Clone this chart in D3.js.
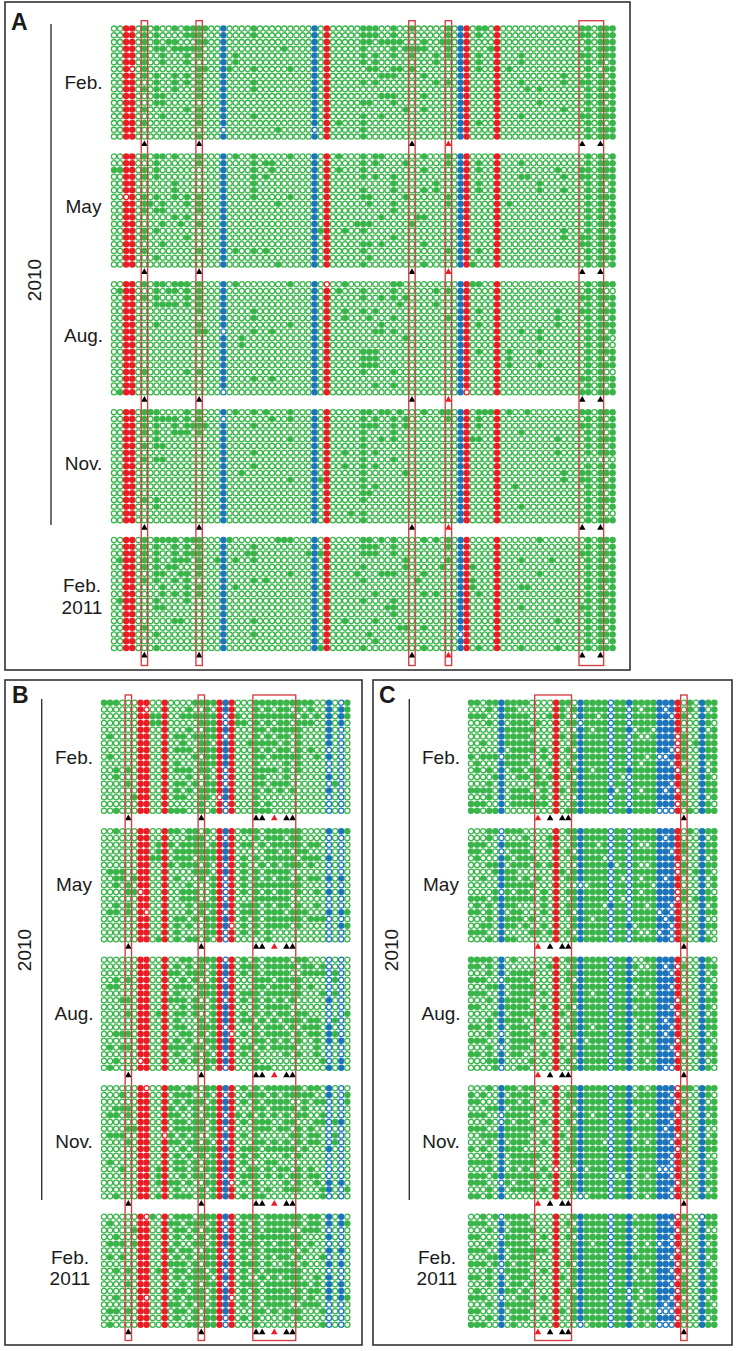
<!DOCTYPE html>
<html>
<head>
<meta charset="utf-8">
<title>Dot matrix</title>
<script src="https://cdn.jsdelivr.net/npm/d3@7"></script>
<style>
  body { margin: 0; background: #fff; }
  text { font-family: "Liberation Sans", Arial, sans-serif; fill: #1a1a1a; }
</style>
</head>
<body>
<div id="chart"></div>
<script>
'use strict';

// panel A: filled green columns per row, one list per sampling date
const A_feb10 = [
  [5,7,10,12,13,14,15,23,41,42,43,46,49,55,60,61,77,78,80,81,82],
  [5,7,12,13,14,23,41,42,43,46,55,60,77,78,80,81,82],
  [5,7,9,10,14,15,41,42,44,45,46,47,51,54,55,78,80,81,82],
  [5,7,8,10,11,12,13,14,28,41,46,48,49,50,51,55,62,78,80,81,82],
  [5,8,12,14,20,41,43,46,49,53,55,60,67,77,78,80,81,82],
  [5,8,12,20,41,43,53,60,67,78,80,82],
  [5,14,15,19,23,29,42,43,46,47,49,60,65,78,81,82],
  [5,7,10,12,14,44,45,46,51,74,78,80,82],
  [7,10,12,14,23,41,43,53,55,67,74,77,78,80,81,82],
  [5,7,10,14,23,68,70,78,80,82],
  [7,8,14,44,45,46,51,78,80,81,82],
  [7,8,41,42,46,70,78,80,82],
  [5,12,14,48,51,74,78,80,81,82],
  [8,14,23,41,44,67,77,78,80,81,82],
  [5,14,37,41,60,78,80,82],
  [27,41,78,80,81,82],
  [14,41,78,80,81,82]
];
const A_may10 = [
  [5,7,8,10,14,20,23,29,37,41,43,44,51,55,78,80,82],
  [7,14,23,25,26,41,43,48,55,60,67,78,80,81,82],
  [0,1,5,7,23,26,37,41,51,60,73,77,78,80,81,82],
  [5,7,23,25,41,43,46,67,68,74,77,78,80,81,82],
  [10,23,46,53,60,70,78,80,82],
  [10,23,41,46,51,53,60,70,74,78,80,82],
  [5,7,10,12,14,23,29,41,42,48,55,78,80,81,82],
  [5,6,8,12,14,27,42,46,55,65,78,80,82],
  [5,7,8,14,46,78,80,82],
  [10,12,44,50,51,78,80,82],
  [8,11,14,40,41,42,49,78,80,81,82],
  [5,7,34,38,41,74,78,80,82],
  [5,12,46,74,77,78,80,81,82],
  [8,41,42,44,51,77,78,80,82],
  [5,14,20,23,25,41,55,60,78,80,82],
  [7,42,78,80,81,82],
  [27,41,51,59,78,80,82]
];
const A_aug10 = [
  [5,7,8,10,11,12,14,20,29,38,46,47,59,60,78,80,81,82],
  [1,7,9,10,12,14,37,41,46,53,55,78,80],
  [5,7,12,14,41,44,46,48,77,78,80,81,82],
  [7,8,9,10,12,14,47,53,78,80,82],
  [14,23,38,41,43,60,73,77,78,80,81,82],
  [23,38,42,46,55,73,78,80,82],
  [7,14,29,44,60,73,78,80,81,82],
  [14,15,23,26,43,44,46,67,70,78,80,82],
  [21,48,70,78,80,81],
  [21,78,80],
  [41,42,43,60,65,70,78,80,81,82],
  [41,42,43,65,78,80,82],
  [41,42,43,65,70,78,80,81,82],
  [5,12,14,41,46,78,80],
  [23,26,77,78,80,81,82],
  [43,46,78,80,82],
  [1,77,78,80,81,82]
];
const A_nov10 = [
  [5,6,7,12,14,20,23,25,29,41,42,44,45,47,51,54,55,60,61,62,65,68,77,78,80,81,82],
  [5,7,8,9,10,12,14,26,29,41,43,46,48,55,60,78,80,82],
  [5,7,10,12,13,14,15,23,41,42,43,46,48,60,77,78,80,81,82],
  [5,7,10,11,12,14,41,46,67,78,80,82],
  [7,29,41,44,46,59,60,73,78,80,81,82],
  [5,7,8,41,78,80,82],
  [23,38,41,43,73,78,80,81,82],
  [5,7,8,41,46],
  [23,38,41,43,78,80,82],
  [21,41,48,74,77,78,80,81,82],
  [29,34,41,74,77,78,80,82],
  [41,43,66,78,80,81,82],
  [41,42,78,80,82],
  [5,7,41,78,80,81,82],
  [7,67,78,80,82],
  [39,41,78,80],
  [41,78,80,81,82]
];
const A_feb11 = [
  [5,7,8,9,10,12,13,14,19,27,28,29,41,42,44,46,51,53,55,70,78,80,81,82],
  [5,7,10,12,14,23,41,42,43,46,55,78,80,82],
  [5,7,10,12,13,14,22,23,32,34,41,42,43,46,77,78,80,81,82],
  [1,5,7,10,11,12,14,17,20,23,48,55,67,72,78,80,82],
  [5,7,9,10,14,41,48,54,59,78,80,81,82],
  [7,8,11,12,14,29,40,44,45,46,51,70,78,80,82],
  [5,7,10,12,23,25,41,50,59,78,80,81,82],
  [8,12,14,20,59,67,68,78,80,82],
  [8,10,12,14,43,51,53,60,78,80,81,82],
  [1,7,12,41,46,78,80,82],
  [7,8,45,46,67,77,78,80,81,82],
  [46,78,80,82],
  [10,11,23,38,43,73,78,80,81,82],
  [5,47,48,51,78,80,82],
  [7,23,42,78,80,81,82],
  [43,78,80,82],
  [7,34,41,51,60,67,73,78,80,81,82]
];
const A_red = [2, 3, 35, 58, 63];
const A_blue = [18, 33, 57];
// [date, row, column] of the red/blue dots that stay open
const A_open = [[0,6,3],[0,15,18],[0,15,33],[1,6,2],[2,0,35],[2,7,18],[2,16,18],[2,16,58],[3,1,18],[4,14,57]];
const A_boxes = [[5,5],[14,14],[49,49],[55,55],[77,80]];
const A_marks = [5, 14, 49, 55, 77, 80];
const A_redMarks = [55];

// panels B and C: # filled, . open
const B_feb10 = [
  "###...##.. #....##### ##...##### #####..#.. #",
  "......#... #...#..#.# ##...#.#.# #.#.#..#.# #",
  "......#### #..####### .##..##### ##.#.#.#.# #",
  "......#### #.....#### .###.#.#.# #.###..#.# .",
  "......##.. #...#..### ##...##.## ###....#.. .",
  ".#....##.. #.##.##### .#...#.#.# #.#....#.. .",
  "......##.. #..#..##.# ##..#####. #.#....#.. .",
  "......##.. #.###.#### ##...#.#.# #.#.#..... .",
  ".#....##.. #....#.### ##...##.## ###..#.#.. .",
  "......##.. #.#...#### ##...#.... #.#....... .",
  "..#.#.##.. #.###.##.# .#...####. #.#....... .",
  "..#...##.. #...#..#.# .#...##... #......#.. .",
  "....#.##.. #.##.#.### .#...##.## #.......#. .",
  "......##.. #.#.#.#### ##...#.#.# .#.....#.. .",
  ".....###.. #.##..##.. ##...#.... .......... .",
  "......##.. #.....#..# .#...#.#.. .......... .",
  "..#...##.. ####..#.## .#...###.. .......... ."
];
const B_may10 = [
  "..#...##.. ###.##.#.# ##.###.### ###....#.# #",
  "......##.. #...###..# .#...#.### .##....... .",
  "......##.# ##.####.## ##.##.#.## ###.##.... .",
  "......##.# #.######## ##.....##. #.##...... .",
  "......#### #.###.#### ##.#.#.### ##.###.#.. .",
  "......##.. ##.###.#.# .#.#..#.#. ###.#..... .",
  ".###..##.. #....###.# ##.#.#.### #......... .",
  "..##.###.. #.#...#.## .#.#.#.#.# #.#.##.#.# .",
  "..#.#.##.. #...#...## .#.#.##### ###....... .",
  "....##.#.. #..###..## .#.#.#.#.# #.#..#.#.# .",
  "......##.. #..###..## .#...##### #......... .",
  "..#.#.##.. #...#.#### ##.###.#.# #.#..#.... .",
  ".##.#.#... #...#.#.## .#.###.### .###...#.# #",
  "......##.. #.##.#.### ##.#.#.### ###.###... .",
  "......##.. #.#.#..### #..#.#.### #.#......# #",
  "......##.. #.#....### .#.#.#.#.. .......... .",
  "......##.# #.#.##.#.# .#.....#.. .......... ."
];
const B_aug10 = [
  "......##.. #..##.#### .#.#.#.### #.##...... .",
  "......##.. #.#.#.#.## ##.###.### ##.##.#... .",
  "......##.. ###.###.## ##.#.#.### #..####.#. .",
  "..#.#.##.. #..#.#..## .#...###.# ###.....#. .",
  ".##...##.. #.###.#### ##...##.## #.#.#..... .",
  "......##.. #.#...#### ##.###.### ###...#.#. .",
  "...##.##.. ####.#..## .#.#.#.#.# .#.....#.. .",
  "......##.. #..#.##.## ##...#.### #......... .",
  "....#.##.# #.##.#..## ##.#.#.#.# #.##...... #",
  "......##.. #.#...#.## ##.##.#.#. ###.##..#. .",
  "......##.. #.##..#### .#...#.### .#.###.#.. .",
  "..###.##.. #..##.#.## #..#.#.### #.#.##.##. .",
  "......##.. #.#.#..### ##...##.#. #.#..#.#.# .",
  ".#.##.##.. ####.##.## ##.##.#.## ##...#.... .",
  "......##.. #.#..#.#.# .#.#.#.... #.#..#.... .",
  "..#....#.. #..#.#.### ##...#.... ......#..# .",
  ".#....##.. #......#.# .#...###.. .......#.# ."
];
const B_nov10 = [
  "......#... ###.##.### ##.#.#.### ###.##.#.. .",
  "...#..##.. #.###..#.# .#..###.#. #####..#.. #",
  "......##.. #.#.###.## ##.#.#.### #..#.##... #",
  "..###.##.. ##.#.#.### ##...##.## ##.#...... .",
  ".##.#.##.. ###..#.### .##.#.#.#. #.##..#... .",
  "......##.. #.##.##.## ##.#.###.. ##...##.## .",
  "....####.. #.#####.## .#...###.# #.#.#..... .",
  ".###..##.. .#.#.#..## ##.#.#.... .##.##..#. .",
  "....#.##.. ###.##.#.# .#...##.#. #.#.##..#. .",
  "......##.. #..#.##### ##.###.### ##.#...#.. .",
  "......##.. #.#.#.#.## .#.#.#.... #.#....... .",
  ".#....##.. #.##.#.### ##.#...##. .......... .",
  "...#..##.# #.##.#.### ##..##.#.# #.#.#..... .",
  "......##.# #..#.##.## .#.###.#.# .##.##.... .",
  "......##.# ###.#..### #..#.#.... #.#..#.#.# .",
  "......##.. #.#...#.## ##...#.#.. ###...##.. #",
  "..#...##.# #.###.#.## ##.#.##... ......#... ."
];
const B_feb11 = [
  "......#.#. #.###.#### ##.###.### ###.##.#.# .",
  ".#....##.. ###.###.## .#.#.#.### ###.##.#.# #",
  ".....###.. #.##.#.### .#.#.#.### #..###.... .",
  "..#...##.. #.#.#.#.## ##.#.##### ###....#.. .",
  ".###.###.. #.#..##.## ##.###.#.# #.#.#..... .",
  "......##.. ##.##..### .#.#.#.### ##.#...#.# .",
  ".#.#..##.. #.#.#.#### .#.#.#.#.# #.#...#... .",
  "......##.. ####.#.### ##.###.#.. ##.#...#.# .",
  "..#.#.##.# #.##.##.## .#.#.#.### ###....... .",
  "......##.. #.#.####.# ##.#..#.#. ###..#.#.. .",
  "....#.##.. #..#.#.### .#.###.### ####.#.#.# .",
  "......##.. #.##.##.## ##.#.#.### #.#.##.#.# .",
  "..#...#... #.#.###.## #..#.#.### ###.#..#.# #",
  "......##.. ###.#.#.## ##.#.#.### #..###.... .",
  ".##.#.##.. #.##.#.### ##...##.#. ###...#... .",
  "......##.. #.#..#.### .#.#.#.... #.#....... .",
  ".#....##.. #...##.### .#...#.... ......#... ."
];
const B_red = [6, 7, 10, 19, 21];
const B_blue = [20, 37, 39];
const B_boxes = [[4,4],[16,16],[25,31]];
const B_marks = [4, 16, 25, 26, 28, 30, 31];
const B_redMarks = [28];

const C_feb10 = [
  "##.####### ....###.## ###.###### #####.#.## #",
  "...#.###.. ....##.### ###.##.#.# ##.##.#.#. #",
  "###..##### ...###..## #.#.##.### ###.##..## #",
  "...#.#.### .#..#.##.# ###.##.### #####...## .",
  ".....##### #...#...## .##.###.## .####...#. #",
  ".....##### ....##.### ###.##.#.. ####.#..## #",
  "..#..##### #...#..### ###.##.### ####.#.### #",
  ".....#.### #.#.#.#.## ###.##.### ###..#..## #",
  "#.###.#### ..#.#..### ###.##.##. #..###..## #",
  ".#...##### ...##.#.## ###.##.#.# ###.#...#. #",
  ".#.#.#.##. ##..#..### .##.###### ####.#..#. #",
  "....##..## .#.##.#.## ###.#..### #####...## .",
  "...#.#.... .##.#..### ###.##.### ###.##..## #",
  "####.#.### ..#.##.### ####.#.#.# ##.#.#..## #",
  "...#.#.### #.#.#...## ###.##.### #####...#. #",
  "###..#.### ###.#..### ###.##.### ####.#..## .",
  "##.###.... ....#.#### ###.###### #...#.#.## #"
];
const C_may10 = [
  "...##.###. ....#.#### ###.##.### #####.#.## #",
  "...#.....# ...##..### ###.##.### ##.##...#. #",
  "###..##### ...##..### #.#.##.#.. ######..## #",
  "##.#...### ....#.#.## ###.##.### ###.##..## #",
  ".#...##.## #...#..### ##..##.### #####...#. #",
  "...###.### .#.##...## ####.#.#.. ####.#..## #",
  "....####.. ....##.### ###.##.### ####.#.### .",
  "..#..###.# .#..#.#### ###.#..#.# ##.##...#. #",
  ".....##### #...#..... ###.##.### .####...#. #",
  "....#.#.## ..#.#.#### ###.##.#.# ####.#..## .",
  "###.###### #.#.#..### ###.#..### ####.#.### #",
  ".#.#.###.. ..#.#.#### ##.###.##. ###.#...#. #",
  "##.#.#.##. ..#.#.#.## ###.##.### #.#.#...## #",
  "...#.####. #...#..### .##.##.### ##.##...#. .",
  "..##.###.# ..#.#..### ###.###.## ###.##..## #",
  "###..#.... ##.##.#.## ###.##.#.. #.#.#...#. .",
  "...#.###.. ....#..### ###.##.### ###.##..## ."
];
const C_aug10 = [
  "####.#.#.. ....#.#### ###.###..# #####...## .",
  "##.#.#.... ...##..### ###.####.. ##.#.#..## #",
  "...#.#.### #...#.#### ###.###.## ###.#...#. #",
  "###...#### ....#.#.## ###.###### #####...## .",
  "...###.### #...#..### ###.###.## ###.#...#. #",
  "###..#.### #.#.#..### .##.###.#. #####...#. #",
  "...#.##### ....#..### ###.###### ####.#..## #",
  "##...##### ..#.#.#.## ###.###.## ###.#...## .",
  "....##.### #...##.### ###.###### ####.#..#. #",
  "...#.####. .#..#..### ###.###.## ##.##...## #",
  "##.#.#.### ....#.#### .##.###.#. ###.#...## #",
  "...#...### ..#.#..### ###.###.## ##.##...#. #",
  "###..#.### #...#...#. ###.###.#. ####.#..## .",
  "...#...### ....##.### ###.###.## ###.#...#. #",
  "##.#.#.##. ..#.#..### ###.###.## ####.#..## #",
  "...###.... #...#.#.## ###.###.#. #####...#. #",
  "....#...## ....#..### ###.###.## ##..#...## ."
];
const C_nov10 = [
  "...#.###.# #...#..### ###.###.#. ####.##.## #",
  "#.#..#.### ....#.#### ###.###.## ###.#...## .",
  "##...###.# ..#.#..### ###.###### ####.#..#. #",
  "...###.### #...#.#.## ###.###.## ###.#...## #",
  "###...#### ....#..### .##.###.#. ####.#..#. #",
  "...#..#.## ..#.#.#.## ###.###.## ###.#...## #",
  "###..##### #...#..### ###.###### ##.##...#. .",
  "..######## ....##.### ###.###.## ####.#..#. #",
  "...#.#.### ..#.#..### ##..###.#. ###.#...## #",
  "#.#..####. ....#.#### ###.###### ####.#..## #",
  "...#.#.### ##..#..### ###.###.## ###.#...#. .",
  "####.#.### #...#..### ###.###.## ###.##..## #",
  "...#.#.#.# ..#.....#. ###.###.## #...#...#. #",
  "###.###### ##.##..### ###...#.#. ###.#...#. #",
  "###...#.## ....#.#### ###.###.## ####.#..## #",
  "...#.#.### #.#.#..### ###.###.## ###.#...#. #",
  "##.#.#.... ....#..... ###.###.#. ###.#...## #"
];
const C_feb11 = [
  "..#.#.#### ....#..### ###.###.## ####.#...# #",
  "###..#.### ....#.#.## ###.###### ###.#...## #",
  "...#.#.### #...#..### ###.###.## ####.#..#. .",
  "##....#### ..#.#.#.## ###.###.## ###.#...## #",
  "...#.##### ....#..### .##.###.#. #.#.#...#. #",
  "###..#.### ###.#..### ###.###.## ####.#..## #",
  "...###.### #...#..### ###.###### ###.#...#. #",
  "###.#.#.## ....#.#.## ###.###.## ####.#..## .",
  "...#..#### ..#.#..### ###.###.#. ###.#...#. #",
  "##.#.#.### ....##.### ###.###.## ####.#..## #",
  "...#.#.##. #...#..### ###.###### ###.##..#. #",
  ".#...###.# ....#.#.## ###.##.#.# ####.#..## #",
  "###.....## ..#.#..### ###.##.#.# ###.#...#. #",
  "...#.##### #...#..### ###.###.## ##.#.#..## .",
  "##...#.### ....##.### ###.###.#. #...#...## #",
  "...#.#.### ..#.#..### ###.###.## ####.#..#. #",
  "###..#.#.. ....#..... ###.###.#. #...#...## #"
];
const C_red = [14, 34];
const C_blue = [5, 18, 23, 26, 31, 32, 33, 38];
const C_boxes = [[11,16],[35,35]];
const C_marks = [11, 13, 15, 16, 35];
const C_redMarks = [11];

const dateLabels = ["Feb.", "May", "Aug.", "Nov."];
const yearLabel = "2010";
const lastLabel = ["Feb.", "2011"];

const GREEN = "#39b54a", RED = "#ed1c24", BLUE = "#1c75bc", BOX = "#d43c42";
const ROWS = 17;

// every date becomes a list of {row, col, filled}
function fromColumns(rows, date) {
  let cells = [];
  rows.forEach((cols, r) => {
    d3.range(83).forEach((c) => {
      let special = A_red.includes(c) || A_blue.includes(c);
      let open = A_open.some((o) => o[0] === date && o[1] === r && o[2] === c);
      cells.push({row: r, col: c, filled: special ? !open : cols.includes(c)});
    });
  });
  return cells;
}

function fromStrings(rows) {
  let cells = [];
  rows.forEach((s, r) => {
    s.replace(/ /g, "").split("").forEach((ch, c) => {
      cells.push({row: r, col: c, filled: ch === "#"});
    });
  });
  return cells;
}

const svg = d3.select("#chart").append("svg")
    .attr("width", 736)
    .attr("height", 1351);

function drawPanel(p) {
  let g = svg.append("g");

  g.append("rect")
      .attr("x", p.frame[0]).attr("y", p.frame[1])
      .attr("width", p.frame[2] - p.frame[0]).attr("height", p.frame[3] - p.frame[1])
      .attr("fill", "none").attr("stroke", "#333").attr("stroke-width", 1.6);

  let x = d3.scaleLinear().domain([0, p.cols - 1]).range(p.xRange);
  let block = d3.scaleLinear().domain([0, 4]).range(p.blockRange);
  let rowY = d3.scaleLinear().domain([0, ROWS - 1]).range([0, 108]);

  let color = (c) => p.red.includes(c) ? RED : p.blue.includes(c) ? BLUE : GREEN;

  p.cells.forEach((cells, b) => {
    let row = g.append("g").attr("transform", "translate(0," + block(b) + ")");
    row.selectAll("circle")
      .data(cells)
      .enter().append("circle")
        .attr("cx", (d) => x(d.col))
        .attr("cy", (d) => rowY(d.row))
        .attr("r", (d) => d.filled ? 3.25 : 2.6)
        .attr("fill", (d) => d.filled ? color(d.col) : "#fff")
        .attr("stroke", (d) => d.filled ? "none" : color(d.col))
        .attr("stroke-width", 1.3);

    let symbol = d3.symbol().type(d3.symbolTriangle).size(19);
    row.selectAll("path")
      .data(p.marks)
      .enter().append("path")
        .attr("d", symbol)
        .attr("transform", (d) => "translate(" + x(d) + "," + (rowY(ROWS - 1) + 7.6) + ")")
        .attr("fill", (d) => p.redMarks.includes(d) ? RED : "#000");
  });

  g.selectAll("rect.box")
    .data(p.boxes)
    .enter().append("rect")
      .attr("class", "box")
      .attr("x", (d) => x(d[0]) - 3.2)
      .attr("y", p.boxY[0])
      .attr("width", (d) => x(d[1]) - x(d[0]) + 6.4)
      .attr("height", p.boxY[1] - p.boxY[0])
      .attr("fill", "none")
      .attr("stroke", BOX)
      .attr("stroke-width", 1.35);

  // date labels and year rule
  g.append("line")
      .attr("x1", p.ruleX).attr("x2", p.ruleX)
      .attr("y1", p.ruleY[0]).attr("y2", p.ruleY[1])
      .attr("stroke", "#333").attr("stroke-width", 1.4);

  g.append("text")
      .attr("transform", "translate(" + p.yearX + "," + p.yearY + ") rotate(-90)")
      .attr("text-anchor", "middle")
      .attr("font-size", 19)
      .text(yearLabel);

  g.selectAll("text.date")
    .data(dateLabels)
    .enter().append("text")
      .attr("class", "date")
      .attr("x", p.labelX)
      .attr("y", (d, i) => p.labelY[i])
      .attr("text-anchor", "middle")
      .attr("font-size", 19)
      .text((d) => d);

  lastLabel.forEach((t, i) => {
    g.append("text")
      .attr("x", p.lastX)
      .attr("y", p.lastY[i])
      .attr("text-anchor", "middle")
      .attr("font-size", 19)
      .text(t);
  });

  g.append("text")
      .attr("x", p.letter[0]).attr("y", p.letter[1])
      .attr("font-size", 23).attr("font-weight", "bold")
      .text(p.name);
}

drawPanel({
  name: "A", frame: [5, 2, 630, 670], letter: [11, 30],
  cols: 83, xRange: [114, 612.6], blockRange: [28.6, 540],
  cells: [A_feb10, A_may10, A_aug10, A_nov10, A_feb11].map(fromColumns),
  red: A_red, blue: A_blue, boxes: A_boxes, marks: A_marks, redMarks: A_redMarks,
  boxY: [20.7, 665.5], ruleX: 51, ruleY: [24, 525], yearX: 41, yearY: 280,
  labelX: 83.5, lastX: 82, labelY: [88.6, 213.4, 342.2, 470], lastY: [592, 613.5]
});
drawPanel({
  name: "B", frame: [5, 680, 362, 1345], letter: [12, 703],
  cols: 41, xRange: [104, 347.3], blockRange: [702.7, 1216.7],
  cells: [B_feb10, B_may10, B_aug10, B_nov10, B_feb11].map(fromStrings),
  red: B_red, blue: B_blue, boxes: B_boxes, marks: B_marks, redMarks: B_redMarks,
  boxY: [695, 1340.5], ruleX: 41.7, ruleY: [699, 1200], yearX: 31, yearY: 950,
  labelX: 74, lastX: 70, labelY: [763.7, 891.2, 1019.7, 1148.2], lastY: [1264.2, 1284.7]
});
drawPanel({
  name: "C", frame: [373, 680, 732, 1345], letter: [379, 703],
  cols: 41, xRange: [471, 714.3], blockRange: [702.7, 1216.7],
  cells: [C_feb10, C_may10, C_aug10, C_nov10, C_feb11].map(fromStrings),
  red: C_red, blue: C_blue, boxes: C_boxes, marks: C_marks, redMarks: C_redMarks,
  boxY: [695, 1340.5], ruleX: 409.3, ruleY: [699, 1200], yearX: 398, yearY: 950,
  labelX: 441, lastX: 437, labelY: [763.7, 891.2, 1019.7, 1148.2], lastY: [1264.2, 1284.7]
});
</script>
</body>
</html>
